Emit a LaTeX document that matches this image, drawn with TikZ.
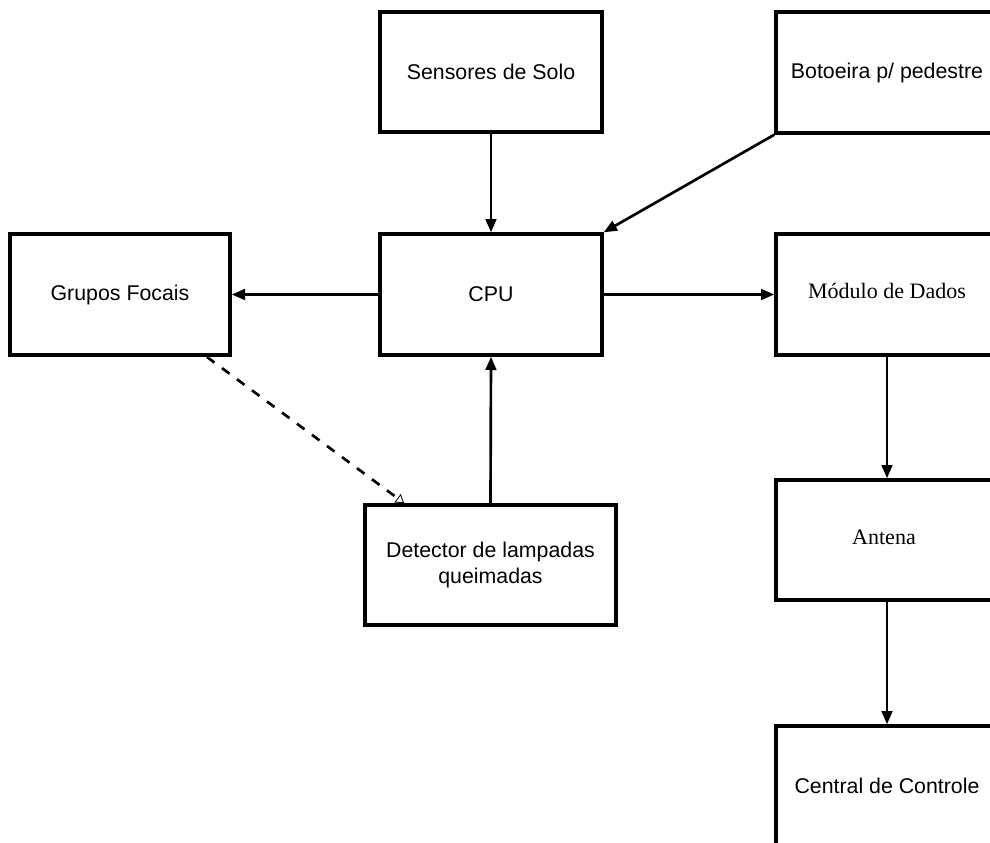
\documentclass[tikz,border=0pt]{standalone}
\usepackage{fontspec}
\setmainfont{Liberation Sans}
\newfontfamily\serifface{Liberation Serif}
\usetikzlibrary{arrows.meta}
\begin{document}
\begin{tikzpicture}[x=0.75pt,y=-0.75pt,
  blk/.style={draw, line width=2.5pt, rectangle, inner sep=0pt, font=\fontsize{16}{19}\selectfont, align=center},
  arr/.style={line width=2pt, -{Triangle[length=10pt,width=8pt]}},
  dasharr/.style={line width=2pt, dash pattern=on 7pt off 7pt, -{Triangle[open,length=6pt,width=8pt,line width=0.6pt]}}]
\useasboundingbox (0,0) rectangle (990,843);
\clip (0,0) rectangle (990,843);
% boxes
\node[blk, minimum width=222*0.75pt, minimum height=120*0.75pt] (sens) at (491,72) {Sensores de Solo};
\node[blk, minimum width=222*0.75pt, minimum height=121*0.75pt] (bot) at (887,72.5) {Botoeira p/ pedestre};
\node[blk, minimum width=222*0.75pt, minimum height=121*0.75pt] (cpu) at (491,294.5) {CPU};
\node[blk, minimum width=220*0.75pt, minimum height=121*0.75pt] (grp) at (120,294.5) {Grupos Focais};
\node[blk, minimum width=222*0.75pt, minimum height=121*0.75pt] (mod) at (887,294.5) {};
\node[font=\serifface\fontsize{16.5}{18}\selectfont] (modt) at (887,291) {Módulo de Dados};
\node[blk, minimum width=251*0.75pt, minimum height=120*0.75pt] (det) at (490.5,565) {Detector de lampadas\\queimadas};
\node[blk, minimum width=222*0.75pt, minimum height=120*0.75pt] (ant) at (887,540) {};
\node[font=\serifface\fontsize{16.5}{18}\selectfont] (antt) at (884,537) {Antena};
\node[blk, minimum width=222*0.75pt, minimum height=120*0.75pt] (cen) at (887,786) {Central de Controle};
% connectors
\draw[arr] (sens.south) -- (cpu.north);
\draw[arr] (bot.south west) -- (cpu.north east);
\draw[arr] (cpu.west) -- (grp.east);
\draw[arr] (cpu.east) -- (mod.west);
\draw[arr] (det.north) -- (cpu.south);
\draw[arr] (mod.south) -- (ant.north);
\draw[arr] (ant.south) -- (cen.north);
\coordinate (gs) at (207,357);
\coordinate (dt) at (404,503);
\draw[dasharr] (gs) -- (dt);
\end{tikzpicture}
\end{document}
